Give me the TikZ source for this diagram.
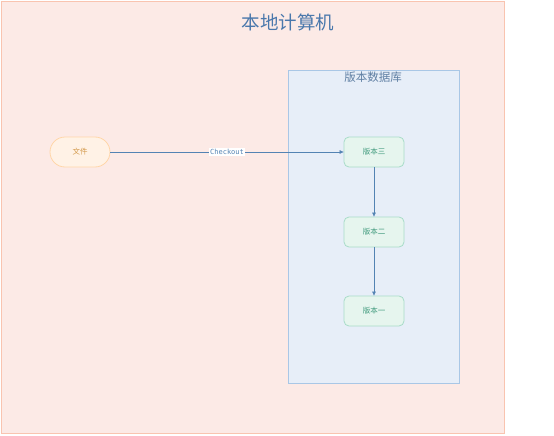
\documentclass[tikz,border=0pt]{standalone}
\usepackage{fontspec}
\setmainfont{Noto Sans CJK SC}
\newfontfamily\cjk{Noto Sans CJK SC}
\newfontfamily\monof{DejaVu Sans Mono}
\usetikzlibrary{arrows.meta}
\definecolor{outerfill}{HTML}{FCEAE6}
\definecolor{outerdraw}{HTML}{F9C4B0}
\definecolor{innerfill}{HTML}{E7EEF8}
\definecolor{innerdraw}{HTML}{A9C7E6}
\definecolor{titlec}{HTML}{4A78AC}
\definecolor{dbc}{HTML}{5F7FA3}
\definecolor{filefill}{HTML}{FFF2E6}
\definecolor{filedraw}{HTML}{FFD6A8}
\definecolor{filetext}{HTML}{D49A4C}
\definecolor{verfill}{HTML}{E6F5EE}
\definecolor{verdraw}{HTML}{A8DCC8}
\definecolor{vertext}{HTML}{3F9A7C}
\definecolor{arrowc}{HTML}{5383B3}
\tikzset{
  verbox/.style={draw=verdraw, fill=verfill, line width=0.8pt, rounded corners=5pt, minimum width=60pt, minimum height=30pt, inner sep=0pt, font=\cjk\fontsize{7.5}{8}\selectfont, text=vertext},
  filebox/.style={draw=filedraw, fill=filefill, line width=0.8pt, rounded corners=15pt, minimum width=60pt, minimum height=30pt, inner sep=0pt, font=\cjk\fontsize{7.5}{8}\selectfont, text=filetext},
  conn/.style={draw=arrowc, line width=0.6pt, -{Triangle[length=4pt,width=3.5pt]}}
}
\begin{document}
\begin{tikzpicture}[x=1pt,y=-1pt]
\useasboundingbox (0,0) rectangle (554,436);
\fill[white] (0,0) rectangle (554,436);
\node[draw=outerdraw, fill=outerfill, line width=1.4pt, minimum width=503pt, minimum height=432pt, anchor=north west, inner sep=0pt] (outer) at (1,1) {};
\node[font=\cjk\fontsize{18.5}{22}\selectfont, text=titlec] (title) at (288,22) {本地计算机};
\node[draw=innerdraw, fill=innerfill, line width=0.8pt, minimum width=171pt, minimum height=313pt, anchor=north west, inner sep=0pt] (db) at (288,70) {};
\node[font=\cjk\fontsize{11.5}{13}\selectfont, text=dbc] (dblabel) at (373,77) {版本数据库};
\node[filebox] (file) at (80,152) {文件};
\node[verbox] (v3) at (374,152) {版本三};
\node[verbox] (v2) at (374,232) {版本二};
\node[verbox] (v1) at (374,311) {版本一};
\draw[conn] (file) -- node[fill=white, inner sep=0.8pt, font=\monof\fontsize{7}{8}\selectfont, text=arrowc] (cklabel) {Checkout} (v3);
\draw[conn] (v3) -- (v2);
\draw[conn] (v2) -- (v1);
\end{tikzpicture}
\end{document}
